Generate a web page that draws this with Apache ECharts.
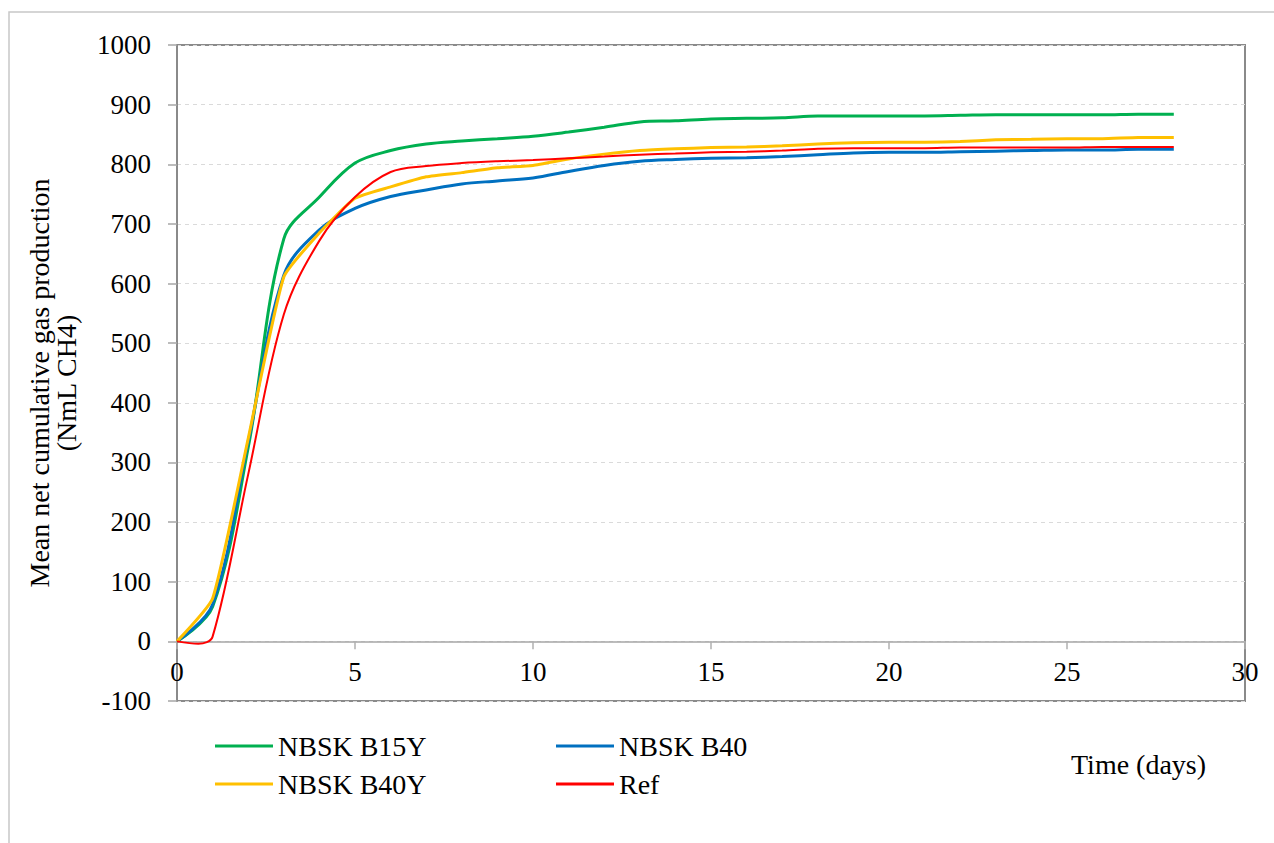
<!DOCTYPE html>
<html>
<head>
<meta charset="utf-8">
<script src="https://cdn.jsdelivr.net/npm/echarts@6/dist/echarts.min.js"></script>
<style>
html,body{margin:0;padding:0;background:#fff;}
#chart{width:1274px;height:843px;}
</style>
</head>
<body>
<div id="chart"></div>
<script>
// ---- data ----
const days = [0,1,2,3,4,5,6,7,8,9,10,11,12,13,14,15,16,17,18,19,20,21,22,23,24,25,26,27,28];
const b15y = [0,58,325,675,745,802,823,834,839,843,847,854,862,871,873,876,877,878,881,881,881,881,882,883,883,883,883,884,884];
const b40  = [0,62,335,614,690,726,746,757,767,772,777,788,798,805,808,810,811,813,816,819,820,820,821,822,823,824,824,825,825];
const b40y = [0,72,340,611,685,743,762,779,786,794,798,809,817,823,826,828,829,831,834,836,837,837,838,841,842,843,843,845,845];
const refDays = [0,0.6,1,2,3,4,5,6,7,8,9,10,11,12,13,14,15,16,17,18,19,20,21,22,23,24,25,26,27,28];
const ref  = [0,-4,8,280,548,672,745,787,797,802,805,807,810,813,816,818,820,821,823,826,827,827,827,828,828,828,828,829,829,829];
const yTicks = {min:-100, max:1000, interval:100};
const xTicks = {min:0, max:30, interval:5};
const seriesNames = ['NBSK B15Y','NBSK B40','NBSK B40Y','Ref'];

const pair = (xs, ys) => xs.map((x,i)=>[x, ys[i]]);
const FONT = "'Liberation Serif', 'Times New Roman', serif";

const chart = echarts.init(document.getElementById('chart'), null, {renderer:'svg'});
const legendBase = {
  orient:'horizontal', padding:0, itemWidth:58, itemHeight:3, icon:'rect',
  textStyle:{fontFamily:FONT, fontSize:28, color:'#000'}, selectedMode:false
};
chart.setOption({
  animation:false,
  backgroundColor:'#fff',
  grid:{left:177, right:29, top:45, bottom:142, show:true, borderColor:'#8a8a8a', borderWidth:2, containLabel:false},
  xAxis:{
    type:'value', min:xTicks.min, max:xTicks.max, interval:xTicks.interval,
    axisLine:{show:true, onZero:true, lineStyle:{color:'#a6a6a6', width:1.5}},
    axisTick:{show:true, inside:false, length:8, lineStyle:{color:'#b0b0b0', width:1.5}},
    axisLabel:{fontFamily:FONT, fontSize:27, color:'#000', margin:-43, formatter:v=>String(v)},
    splitLine:{show:false}
  },
  yAxis:{
    type:'value', min:yTicks.min, max:yTicks.max, interval:yTicks.interval,
    axisLine:{show:true, lineStyle:{color:'#8a8a8a', width:2}},
    axisTick:{show:true, inside:false, length:9, lineStyle:{color:'#a6a6a6', width:1.5}},
    axisLabel:{fontFamily:FONT, fontSize:27, color:'#000', margin:26, formatter:v=>String(v)},
    splitLine:{show:true, lineStyle:{color:'#dadada', type:[4,4], width:1}}
  },
  legend:[
    Object.assign({}, legendBase, {data:[seriesNames[0]], left:215, top:732}),
    Object.assign({}, legendBase, {data:[seriesNames[1]], left:556, top:732}),
    Object.assign({}, legendBase, {data:[seriesNames[2]], left:215, top:770}),
    Object.assign({}, legendBase, {data:[seriesNames[3]], left:556, top:770})
  ],
  graphic:[
    {type:'rect', silent:true, shape:{x:9, y:12, width:1300, height:900},
     style:{fill:'none', stroke:'#c8c8c8', lineWidth:1.5}},
    {type:'text', silent:true, x:53, y:383, rotation:Math.PI/2,
     style:{text:'Mean net cumulative gas production\n(NmL CH4)', align:'center', verticalAlign:'middle',
            fontFamily:FONT, fontSize:28, lineHeight:27, fill:'#000'}},
    {type:'text', silent:true, x:1071, y:764,
     style:{text:'Time (days)', align:'left', verticalAlign:'middle', fontFamily:FONT, fontSize:28, fill:'#000'}}
  ],
  series:[
    {name:seriesNames[0], type:'line', data:pair(days,b15y), smooth:0.35, showSymbol:false,
     itemStyle:{color:'#00B050'}, lineStyle:{color:'#00B050', width:3}},
    {name:seriesNames[1], type:'line', data:pair(days,b40), smooth:0.35, showSymbol:false,
     itemStyle:{color:'#0070C0'}, lineStyle:{color:'#0070C0', width:3}},
    {name:seriesNames[2], type:'line', data:pair(days,b40y), smooth:0.15, showSymbol:false,
     itemStyle:{color:'#FFC000'}, lineStyle:{color:'#FFC000', width:3}},
    {name:seriesNames[3], type:'line', data:pair(refDays,ref), smooth:0.35, showSymbol:false,
     itemStyle:{color:'#FF0000'}, lineStyle:{color:'#FF0000', width:2}}
  ]
});
</script>
</body>
</html>
